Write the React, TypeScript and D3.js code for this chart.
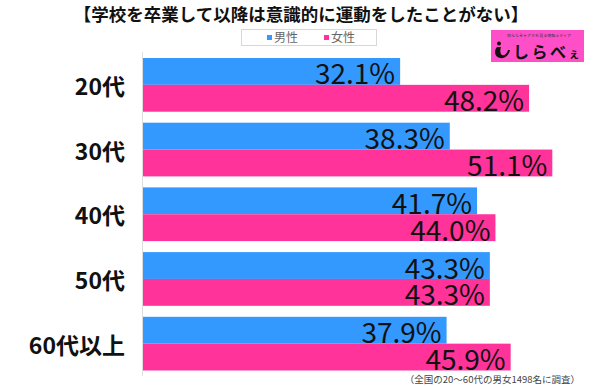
import React from "react";
import * as d3 from "d3";

const categories = ["20代", "30代", "40代", "50代", "60代以上"];
const maleValues = [32.1, 38.3, 41.7, 43.3, 37.9];
const femaleValues = [48.2, 51.1, 44.0, 43.3, 45.9];
const seriesNames = ["男性", "女性"];
const title = "【学校を卒業して以降は意識的に運動をしたことがない】";
const footnote = "（全国の20～60代の男女1498名に調査）";

const W = 600;
const H = 387;
const BLUE = "#3399ff";
const PINK = "#ff3399";
const JP = "'Noto Sans CJK JP', 'Noto Sans', sans-serif";

export default function App() {
  const x = d3.scaleLinear().domain([0, 50]).range([143, 543.5]);
  const y = d3
    .scaleBand<string>()
    .domain(categories)
    .range([52.5, 376])
    .paddingInner(0.17)
    .paddingOuter(0.085);
  const sub = d3.scaleBand<number>().domain([0, 1]).range([0, y.bandwidth()]);
  const series = [maleValues, femaleValues];
  const colors = [BLUE, PINK];

  return (
    <svg
      width={W}
      height={H}
      style={{ position: "absolute", left: 0, top: 0, background: "#fff" }}
    >
      <rect width={W} height={H} fill="#fff" />
      <text
        x={301}
        y={21}
        textAnchor="middle"
        fontFamily={JP}
        fontWeight="bold"
        fontSize={17.5}
        fill="#111"
      >
        {title}
      </text>

      {/* legend */}
      <rect x={241.5} y={29.5} width={135} height={16} fill="#fff" stroke="#d8d8d8" />
      {seriesNames.map((n, i) => (
        <g key={n} transform={`translate(${267 + i * 57},0)`}>
          <rect x={0} y={35} width={5} height={5} fill={colors[i]} />
          <text x={7} y={42} fontFamily={JP} fontSize={12} fill="#666">
            {n}
          </text>
        </g>
      ))}

      {/* logo */}
      <g>
        <rect x={491} y={30} width={93} height={32} fill="#ff4fc8" />
        <text
          x={507}
          y={36.5}
          fontFamily={JP}
          fontSize={3.5}
          textLength={64}
          lengthAdjust="spacingAndGlyphs"
          fill="#333"
        >
          知らなきゃアホを見る情報メディア
        </text>
        <circle cx={499} cy={43.5} r={2} fill="#111" />
        <path
          d="M497,47 C494,50 494,57 500,58 C505,59 509,55 510,50 L508,50 C507,54 504,56 502,55 C500,54 500,50 501,47 Z"
          fill="#111"
        />
        <text x={513} y={58} fontFamily={JP} fontWeight="bold" fontSize={16} letterSpacing={2.5} fill="#111">
          しらべ
          <tspan fontSize={11}>ぇ</tspan>
        </text>
      </g>

      {/* axis line */}
      <line x1={142.5} x2={142.5} y1={52} y2={376} stroke="#dddddd" strokeWidth={1} />

      {categories.map((c, ci) => (
        <g key={c}>
          <text
            x={125}
            y={(y(c) as number) + y.bandwidth() / 2}
            textAnchor="end"
            dominantBaseline="central"
            fontFamily={JP}
            fontWeight="bold"
            fontSize={23}
            fill="#111"
          >
            {c}
          </text>
          {series.map((vals, si) => {
            const v = vals[ci];
            const top = (y(c) as number) + (sub(si) as number);
            const bw = sub.bandwidth();
            return (
              <g key={si}>
                <rect x={x(0)} y={top} width={x(v) - x(0)} height={bw} fill={colors[si]} />
                <text
                  x={x(v) - 5}
                  y={top + bw / 2 + 1}
                  textAnchor="end"
                  dominantBaseline="central"
                  fontFamily={JP}
                  fontSize={28}
                  fill="#111"
                >
                  {v.toFixed(1) + "%"}
                </text>
              </g>
            );
          })}
        </g>
      ))}

      <text x={580} y={383} textAnchor="end" fontFamily={JP} fontSize={9.5} fill="#444">
        {footnote}
      </text>
    </svg>
  );
}
